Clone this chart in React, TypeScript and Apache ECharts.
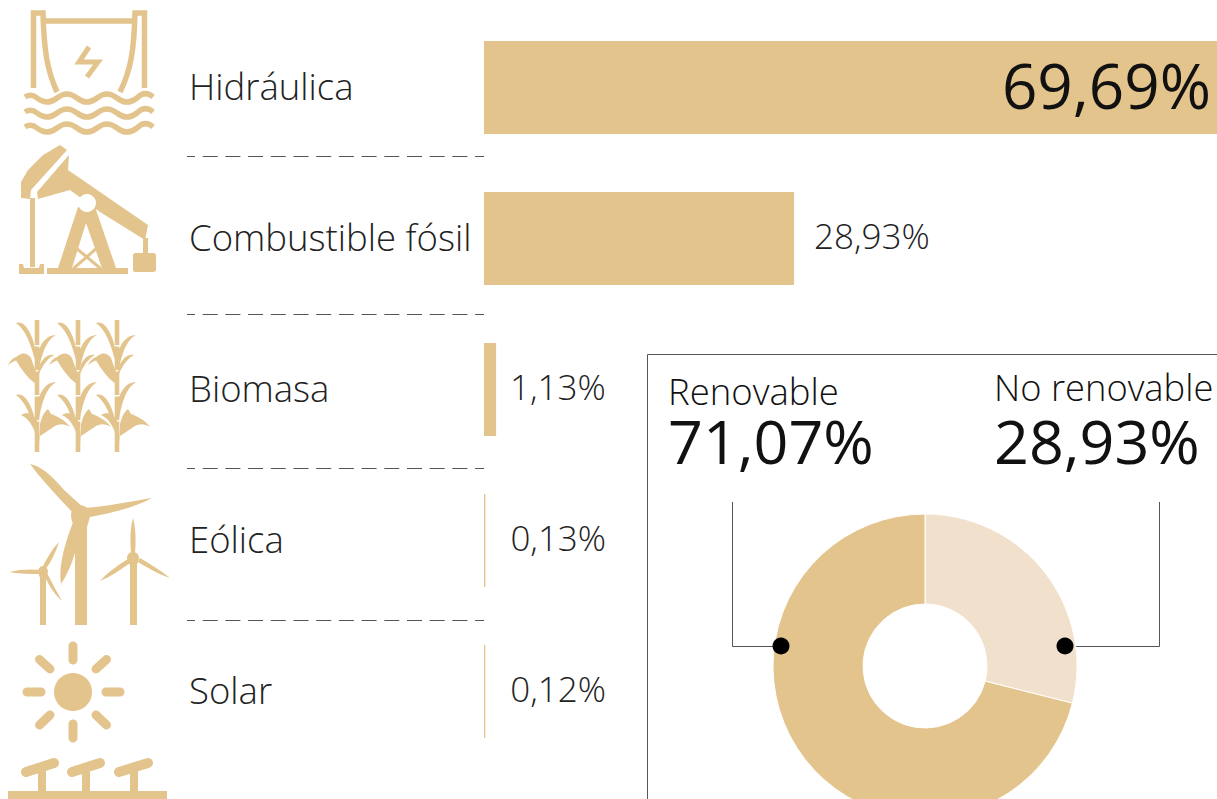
import React, { useEffect, useRef } from "react";
import * as echarts from "echarts";

const categories = ["Hidráulica", "Combustible fósil", "Biomasa", "Eólica", "Solar"];
const shares = [69.69, 28.93, 1.13, 0.13, 0.12];
const shareLabels = ["69,69%", "28,93%", "1,13%", "0,13%", "0,12%"];
const mixNames = ["No renovable", "Renovable"];
const mixValues = [28.93, 71.07];
const mixLabels = ["28,93%", "71,07%"];

const GOLD = "#E3C48C";
const PALE = "#F1E0CB";
const FONT = "'Open Sans', sans-serif";

const hydroStroke =
  "M33.5 88V13H43C44 50 47 70 57 92M44 21H133M144.5 88V13H135C134 50 131 70 120 92" +
  "M25 97Q31 93 37 98Q47 106 57 98T77 98T97 98T117 98T137 98Q145 90 153 97" +
  "M25 112Q31 108 37 113Q47 121 57 113T77 113T97 113T117 113T137 113Q145 105 153 112" +
  "M25 127Q31 123 37 128Q47 136 57 128T77 128T97 128T117 128T137 128Q145 120 153 127";
const hydroBolt = "M89 47L79 62L98 62L87 77";
const pumpFill =
  "M21 198L21 182L28 170L43 155L60 145L67 150L31 190L30 199Z" +
  "M69 155L68 170L148 225L145 240L100 212L70 190L38 199L37 192Z" +
  "M78 207L90 207L86 223L72 268L58 268Z" +
  "M82 207L95 207L116 268L102 268L86 223Z" +
  "M30 198H35V267H30Z" +
  "M47 268H128V274H47Z" +
  "M19 264L23 264L24 268H39L40 264L44 264V274H19Z" +
  "M143 238H148V254H143Z" +
  "M135 253H153Q156 253 156 256V269Q156 272 153 272H135Q133 272 133 269V256Q133 253 135 253Z";
const pumpBrace = "M76 248L100 268M97 248L74 268";
const caneTop =
  "M-21 323C-12 319 -4 335 -1 352L-2 360C-6 345 -11 330 -21 323Z" +
  "M19 335C9 335 4 344 1 352L2 368C6 350 10 340 19 335Z" +
  "M-22 358C-16 352 -10 352 -6 358L-1 372L-1 384C-10 378 -16 368 -20 362Z" +
  "M-20 360C-25 362 -28 364 -29 366C-27 360 -23 357 -18 356Z" +
  "M1 368C6 358 10 354 17 355C12 358 7 362 2 374Z";
const caneLow =
  "M-21 395C-12 391 -4 407 -1 424L-2 432C-6 417 -11 402 -21 395Z" +
  "M19 382C9 382 4 391 1 400L2 418C6 398 10 388 19 382Z" +
  "M-16 415C-10 411 -4 414 0 420L0 440C-2 430 -6 420 -16 415Z" +
  "M2 444L3 424C5 416 8 411 11 409L14 414C20 416 28 420 33 427C27 423 22 424 18 426L3 436Z";
const caneStalk =
  "M-2.3 320H2.3V345H-2.3ZM-2.3 346.5H2.3V370H-2.3ZM-2.3 371.5H2.3V395H-2.3ZM-2.3 396.5H2.3V420H-2.3ZM-2.3 421.5H2.3V452H-2.3Z";
const windFill =
  "M30 464C42 466 54 478 64 490L84 508L76 516L58 497C48 486 38 475 30 464Z" +
  "M82 508C105 507 132 501 152 498C134 508 108 514 84 518Z" +
  "M74 520L82 522C78 545 72 568 61 584C58 565 66 540 74 520Z" +
  "M80 505C86 505 90 510 90 515C90 520 87 524 87 528V625H75V528C73 524 71 520 71 515C71 510 75 505 80 505Z" +
  "M9 572C20 569 32 569 42 570V574C32 574 20 574 9 572Z" +
  "M59 542C56 552 51 562 45 570L42 568C47 558 52 549 59 542Z" +
  "M62 601C55 595 49 586 44 575L47 573C52 583 57 592 62 601Z" +
  "M43 566C46 566 48 569 48 572L46 578V625H40V578L38 572C38 569 40 566 43 566Z" +
  "M133 518C136 528 136 542 135 553H131C130 542 130 528 133 518Z" +
  "M100 581C108 572 118 565 128 559L130 563C120 570 110 577 100 581Z" +
  "M170 578C158 574 148 568 138 562L140 558C150 564 160 570 170 578Z" +
  "M133 552C137 552 139 555 139 558C139 561 137 563 137 565V625H130V565C128 563 127 561 127 558C127 555 129 552 133 552Z";
const sunRays =
  "M73 646V660M73 724V738M27 692H41M106 692H120" +
  "M39.5 659.5L50 669M106.5 659.5L96 669M39.5 725L50 715M106.5 725L96 715";
const panelBars = "M26 772L54 763M72 772L100 763M119 772L148 763";
const panelFill =
  "M38 770H46V792H38ZM82 770H90V792H82ZM130 770H138V792H130ZM8 791H167V799H8Z";

echarts.graphic.registerShape("hydroStroke", echarts.graphic.extendPath(hydroStroke, {}));
echarts.graphic.registerShape("hydroBolt", echarts.graphic.extendPath(hydroBolt, {}));
echarts.graphic.registerShape("pumpFill", echarts.graphic.extendPath(pumpFill, {}));
echarts.graphic.registerShape("pumpBrace", echarts.graphic.extendPath(pumpBrace, {}));
echarts.graphic.registerShape("caneTop", echarts.graphic.extendPath(caneTop, {}));
echarts.graphic.registerShape("caneLow", echarts.graphic.extendPath(caneLow, {}));
echarts.graphic.registerShape("caneStalk", echarts.graphic.extendPath(caneStalk, {}));
echarts.graphic.registerShape("windFill", echarts.graphic.extendPath(windFill, {}));
echarts.graphic.registerShape("sunRays", echarts.graphic.extendPath(sunRays, {}));
echarts.graphic.registerShape("panelBars", echarts.graphic.extendPath(panelBars, {}));
echarts.graphic.registerShape("panelFill", echarts.graphic.extendPath(panelFill, {}));

function iconElements(): any[] {
  const fill = { fill: GOLD };
  const stroke = (w: number) => ({ fill: "none", stroke: GOLD, lineWidth: w, lineCap: "round" });
  const els: any[] = [
    { type: "hydroStroke", style: { ...stroke(5.5), lineCap: "butt" } },
    { type: "hydroBolt", style: { ...stroke(5), lineCap: "butt" } },
    { type: "pumpFill", style: fill },
    { type: "pumpBrace", style: stroke(3) },
    { type: "circle", shape: { cx: 87, cy: 203, r: 9 }, style: { fill: "#fff" } },
    { type: "line", shape: { x1: 70, y1: 149, x2: 33, y2: 191 }, style: { stroke: "#fff", lineWidth: 2 } },
    { type: "windFill", style: fill },
    { type: "circle", shape: { cx: 73, cy: 692, r: 19 }, style: fill },
    { type: "sunRays", style: stroke(9) },
    { type: "panelBars", style: stroke(10) },
    { type: "panelFill", style: fill },
  ];
  [37, 78, 117].forEach((x) => {
    els.push({ type: "caneTop", x, y: 0, style: fill });
    els.push({ type: "caneLow", x, y: 0, style: fill });
    els.push({ type: "caneStalk", x, y: 0, style: fill });
  });
  return els;
}

function dividerElements(): any[] {
  return [156, 314, 468, 620].map((y) => ({
    type: "line",
    shape: { x1: 187, y1: y + 0.5, x2: 484, y2: y + 0.5 },
    style: { stroke: "#555", lineWidth: 1.2, lineDash: [15, 7.7], lineDashOffset: 7 },
  }));
}

function boxElements(): any[] {
  const line = { fill: "none", stroke: "#555", lineWidth: 1 };
  const text = (x: number, y: number, t: string, size: number, weight: number) => ({
    type: "text",
    x,
    y,
    style: { text: t, x: 0, y: 0, fill: "#111", font: `${weight} ${size}px ${FONT}` },
  });
  return [
    {
      type: "polyline",
      shape: { points: [[647.5, 799], [647.5, 354.5], [1217, 354.5]] },
      style: line,
    },
    text(668, 372, mixNames[1], 36.5, 300),
    text(994, 369, mixNames[0], 36.3, 300),
    text(668, 410, mixLabels[1], 61, 400),
    text(994, 410, mixLabels[0], 61, 400),
    { type: "polyline", shape: { points: [[732.5, 502], [732.5, 646.5], [781, 646.5]] }, style: line },
    { type: "polyline", shape: { points: [[1159.5, 502], [1159.5, 646.5], [1065, 646.5]] }, style: line },
    { type: "circle", z: 100, shape: { cx: 781, cy: 646, r: 8.5 }, style: { fill: "#000" } },
    { type: "circle", z: 100, shape: { cx: 1065, cy: 646, r: 8.5 }, style: { fill: "#000" } },
  ];
}

export default function App() {
  const ref = useRef<HTMLDivElement>(null);
  useEffect(() => {
    document.body.style.margin = "0";
    const chart = echarts.init(ref.current!, undefined, { renderer: "svg" });
    const gaps = [0, 20, 14, 25, 25];
    chart.setOption({
      animation: false,
      backgroundColor: "#fff",
      grid: { left: 484, top: 12, width: 733, height: 755, containLabel: false },
      xAxis: { type: "value", min: 0, max: 68.38, show: false },
      yAxis: {
        type: "category",
        inverse: true,
        data: categories,
        axisLine: { show: false },
        axisTick: { show: false },
        axisLabel: {
          align: "left",
          verticalAlign: "bottom",
          lineHeight: 4,
          margin: 295,
          color: "#222",
          fontFamily: FONT,
          fontWeight: 300,
          fontSize: 36.5,
        },
      },
      series: [
        {
          type: "bar",
          barWidth: 93,
          clip: true,
          itemStyle: { color: GOLD },
          data: shares.map((value, i) => ({
            value,
            label:
              i === 0
                ? {
                    show: true,
                    position: "insideRight",
                    distance: 6,
                    offset: [0, -3],
                    formatter: shareLabels[i],
                    fontFamily: FONT,
                    fontSize: 62,
                    fontWeight: 400,
                    color: "#111",
                  }
                : {
                    show: true,
                    position: "right",
                    distance: gaps[i],
                    offset: [0, -3],
                    formatter: shareLabels[i],
                    fontFamily: FONT,
                    fontSize: 35,
                    fontWeight: 300,
                    color: "#222",
                  },
          })),
        },
        {
          type: "pie",
          center: [925, 666],
          radius: [62, 152],
          startAngle: 90,
          clockwise: true,
          label: { show: false },
          labelLine: { show: false },
          itemStyle: { borderColor: "#fff", borderWidth: 1 },
          data: mixValues.map((value, i) => ({
            value,
            name: mixNames[i],
            itemStyle: { color: i === 0 ? PALE : GOLD },
          })),
        },
      ],
      graphic: { elements: [...iconElements(), ...dividerElements(), ...boxElements()] },
    });
    return () => chart.dispose();
  }, []);
  return <div ref={ref} style={{ width: 1217, height: 799 }} />;
}
